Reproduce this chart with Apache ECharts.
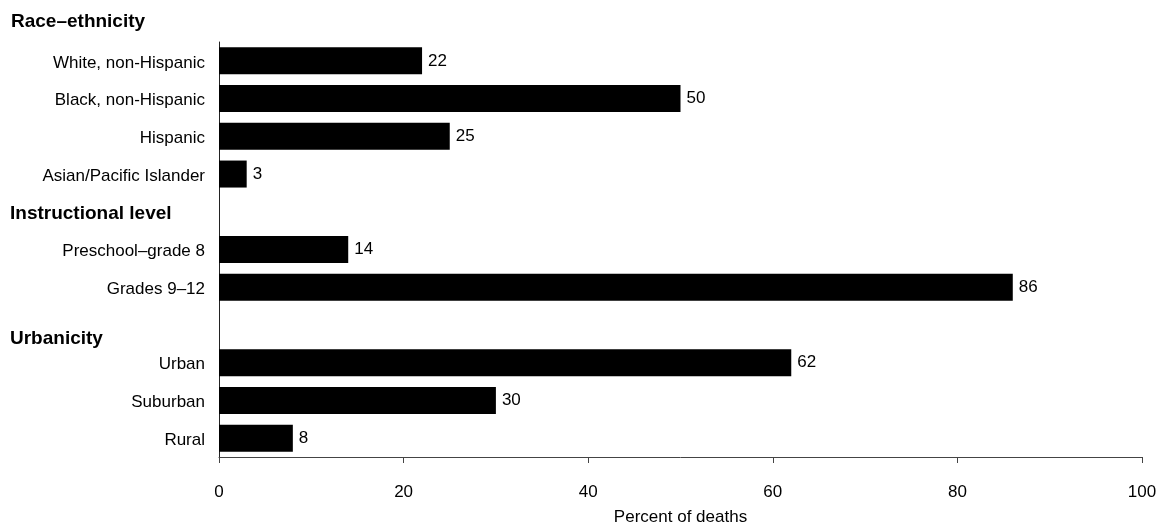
<!DOCTYPE html>
<html>
<head>
<meta charset="utf-8">
<script src="https://cdn.jsdelivr.net/npm/echarts@6/dist/echarts.min.js"></script>
<style>
html,body{margin:0;padding:0;background:#fff;}
#c{width:1166px;height:527px;}
</style>
</head>
<body>
<div id="c"></div>
<script>
const topHeader = 'Race–ethnicity';
const categories = ['White, non-Hispanic','Black, non-Hispanic','Hispanic','Asian/Pacific Islander','Instructional level','Preschool–grade 8','Grades 9–12','Urbanicity','Urban','Suburban','Rural'];
const values = [22, 50, 25, 3, null, 14, 86, null, 62, 30, 8];
const groupHeaders = ['Instructional level', 'Urbanicity'];
const xTicks = [0, 20, 40, 60, 80, 100];
const xName = 'Percent of deaths';

const FONT = "'Liberation Sans Narrow', 'Arial Narrow', 'Liberation Sans', sans-serif";
const chart = echarts.init(document.getElementById('c'), null, {renderer: 'canvas'});
chart.setOption({
  animation: false,
  backgroundColor: '#fff',
  textStyle: {fontFamily: FONT},
  title: {
    text: topHeader, left: 11, top: 12, padding: 0,
    textStyle: {fontFamily: FONT, fontSize: 19, fontWeight: 'bold', color: '#000'}
  },
  grid: {left: 219, right: 24, top: 42, bottom: 70, containLabel: false, outerBoundsMode: 'none'},
  xAxis: {
    type: 'value', min: xTicks[0], max: xTicks[xTicks.length - 1], interval: xTicks[1] - xTicks[0],
    name: xName, nameLocation: 'middle', nameGap: 52,
    nameTextStyle: {fontFamily: FONT, fontSize: 17, color: '#000'},
    axisLine: {show: true, lineStyle: {color: '#444', width: 1}},
    axisTick: {show: true, length: 6, lineStyle: {color: '#444'}},
    axisLabel: {margin: 27, fontSize: 17, color: '#000', fontFamily: FONT},
    splitLine: {show: false}
  },
  yAxis: {
    type: 'category', data: categories, inverse: true,
    axisLine: {show: true, lineStyle: {color: '#222', width: 1}},
    axisTick: {show: false},
    axisLabel: {
      margin: 14, fontSize: 17, color: '#000', fontFamily: FONT,
      padding: [4, 0, 0, 0],
      formatter: function (v) {
        if (v === groupHeaders[0]) return '{h|' + v + '}';
        if (v === groupHeaders[1]) return '{u|' + v + '}';
        return v;
      },
      rich: {
        h: {fontFamily: FONT, fontSize: 19, fontWeight: 'bold', color: '#000', width: 195, align: 'left'},
        u: {fontFamily: FONT, fontSize: 19, fontWeight: 'bold', color: '#000', width: 195, align: 'left', padding: [24, 0, 0, 0]}
      }
    }
  },
  series: [{
    type: 'bar', data: values, barWidth: 27,
    itemStyle: {color: '#000'},
    label: {show: true, position: 'right', distance: 6, fontSize: 17, color: '#000', fontFamily: FONT}
  }]
});
</script>
</body>
</html>
